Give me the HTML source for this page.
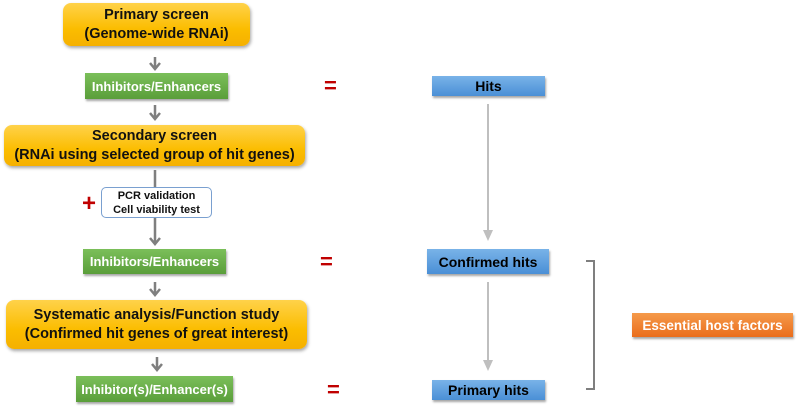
<!DOCTYPE html>
<html><head><meta charset="utf-8"><style>
body{margin:0;width:800px;height:406px;background:#fff;position:relative;overflow:hidden;font-family:"Liberation Sans",sans-serif;font-weight:bold}
.b{position:absolute;display:flex;align-items:center;justify-content:center;text-align:center;box-sizing:border-box}
.y{background:linear-gradient(#ffd24a,#fbbd00 60%,#f5b000);border-radius:8px;color:#111;font-size:14.5px;line-height:19px;box-shadow:1px 2px 3px rgba(0,0,0,.35)}
.g{background:linear-gradient(#7bbf5a,#5a9e3a);color:#fff;font-size:13px;box-shadow:1px 2px 2px rgba(0,0,0,.35)}
.bl{background:linear-gradient(#79b3e8,#4a8fd6);color:#000;font-size:14px;box-shadow:1px 2px 2px rgba(0,0,0,.35)}
.eq{position:absolute;color:#c00000;font-size:22px}
</style></head><body>
<div class="b y" style="left:63px;top:3px;width:187px;height:43px">Primary screen<br>(Genome-wide RNAi)</div>
<div class="b g" style="left:85px;top:73px;width:143px;height:26px">Inhibitors/Enhancers</div>
<div class="b y" style="left:4px;top:125px;width:301px;height:41px">Secondary screen<br>(RNAi using selected group of hit genes)</div>
<div class="b" style="left:101px;top:187px;width:111px;height:31px;border:1px solid #7aa0d0;border-radius:5px;background:#fff;font-size:11px;line-height:14px;color:#111">PCR validation<br>Cell viability test</div>
<div class="b g" style="left:83px;top:249px;width:143px;height:25px">Inhibitors/Enhancers</div>
<div class="b y" style="left:6px;top:300px;width:301px;height:49px">Systematic analysis/Function study<br>(Confirmed hit genes of great interest)</div>
<div class="b g" style="left:76px;top:376px;width:157px;height:26px">Inhibitor(s)/Enhancer(s)</div>
<div class="b bl" style="left:432px;top:76px;width:113px;height:20px">Hits</div>
<div class="b bl" style="left:427px;top:249px;width:122px;height:25px">Confirmed hits</div>
<div class="b bl" style="left:432px;top:380px;width:113px;height:20px">Primary hits</div>
<div class="b" style="left:632px;top:313px;width:161px;height:24px;background:linear-gradient(#f59a4a,#ea6d1c);color:#fff;font-size:13.5px;box-shadow:1px 2px 2px rgba(0,0,0,.35)">Essential host factors</div>
<div class="eq" style="left:324px;top:73px">=</div>
<div class="eq" style="left:320px;top:249px">=</div>
<div class="eq" style="left:327px;top:377px">=</div>
<div class="eq" style="left:82px;top:190px;font-size:24px">+</div>
<svg width="800" height="406" style="position:absolute;left:0;top:0">
<g stroke="#7f7f7f" stroke-width="2.5" fill="none">
<path d="M155 57V68M150 63l5 6 5-6"/>
<path d="M155 105V118M150 113l5 6 5-6"/>
<path d="M155 170V187M155 218V243M150 238l5 6 5-6"/>
<path d="M155 282V294M150 289l5 6 5-6"/>
<path d="M157 357V369M152 364l5 6 5-6"/>
<path d="M586 261H594V389H586" stroke-width="2"/>
</g>
<g stroke="#bfbfbf" stroke-width="2" fill="#bfbfbf">
<path d="M488 104V232"/><path d="M483 230h10l-5 11z" stroke="none"/>
<path d="M488 282V362"/><path d="M483 360h10l-5 11z" stroke="none"/>
</g>
</svg>
</body></html>
